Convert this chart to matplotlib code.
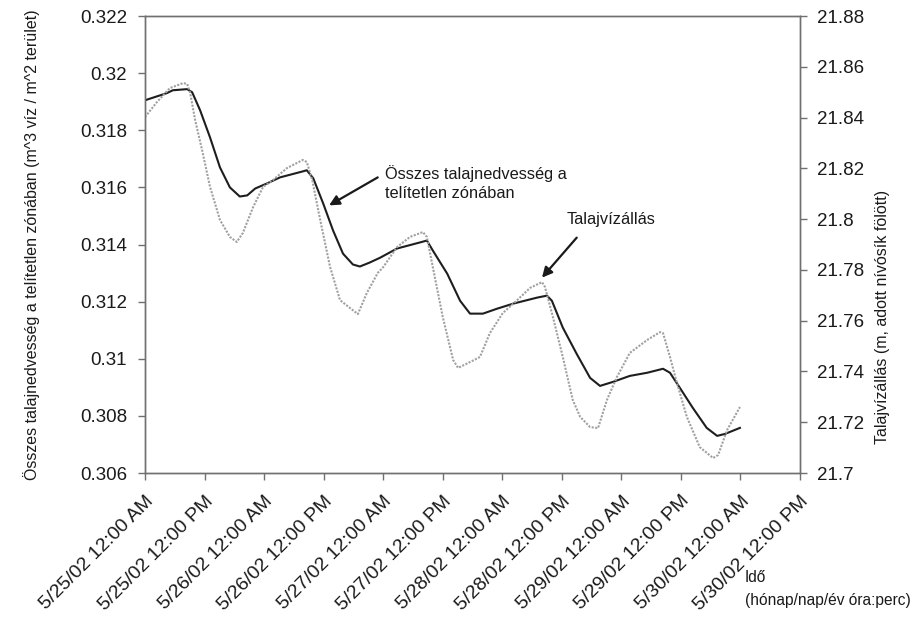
import pandas as pd
import matplotlib.pyplot as plt
import matplotlib.dates as mdates
from matplotlib.ticker import FuncFormatter

plt.rcParams['font.family'] = ['Liberation Sans', 'DejaVu Sans']

start = pd.Timestamp("2002-05-25 00:00")

# soil moisture in the unsaturated zone (left axis), hours from start
moist_hours = [0, 4.4, 5.6, 8.5, 9.5, 11.1, 13.1, 15.1, 17.1, 19.1, 20.6, 22.2,
               24.6, 27.2, 31.8, 32.6, 33.9, 35.9, 37.9, 39.9, 41.9, 43.3, 45.3,
               47.4, 50.8, 56.0, 56.8, 58.0, 60.9, 63.5, 65.5, 68.1, 70.9, 74.2,
               79.0, 81.0, 82.0, 84.2, 87.0, 89.7, 91.7, 94.3, 97.7, 101.2, 104.4,
               105.8, 107.8, 110.4, 113.2, 115.3, 116.9, 119.9]
moist = [0.31905, 0.31930, 0.31940, 0.31944, 0.31933, 0.31870, 0.31775, 0.31670,
         0.31600, 0.31568, 0.31572, 0.31596, 0.31614, 0.31635, 0.31656, 0.31660,
         0.31632, 0.31544, 0.31449, 0.31368, 0.31330, 0.31323, 0.31337, 0.31354,
         0.31386, 0.31410, 0.31414, 0.31379, 0.31298, 0.31203, 0.31158, 0.31158,
         0.31175, 0.31193, 0.31214, 0.31221, 0.31203, 0.31109, 0.31017, 0.30933,
         0.30905, 0.30919, 0.30940, 0.30951, 0.30965, 0.30951, 0.30898, 0.30828,
         0.30758, 0.30730, 0.30737, 0.30758]

# groundwater level (right axis)
gw_hours = [0, 2.4, 5.0, 7.7, 8.5, 9.1, 10.1, 11.5, 13.1, 15.1, 17.1, 18.5, 19.7,
            21.8, 23.8, 25.8, 28.6, 31.8, 32.6, 33.7, 35.3, 37.3, 39.3, 41.3, 42.9,
            44.7, 46.9, 48.0, 50.8, 53.4, 56.0, 56.8, 58.0, 60.0, 62.1, 63.1, 65.5,
            67.5, 69.5, 72.1, 75.0, 77.6, 80.0, 80.6, 82.2, 84.2, 86.2, 87.7, 89.7,
            91.3, 93.1, 95.1, 97.7, 101.2, 103.8, 104.4, 105.8, 107.2, 109.2, 111.8,
            114.5, 115.5, 117.3, 119.9]
gw = [21.8402, 21.8461, 21.8516, 21.8536, 21.8532, 21.8497, 21.8390, 21.8272,
      21.8127, 21.7997, 21.7930, 21.7910, 21.7945, 21.8048, 21.8127, 21.8154,
      21.8201, 21.8233, 21.8225, 21.8154, 21.7997, 21.7811, 21.7681, 21.7650,
      21.7626, 21.7709, 21.7788, 21.7811, 21.7890, 21.7930, 21.7949, 21.7930,
      21.7811, 21.7615, 21.7445, 21.7414, 21.7437, 21.7457, 21.7551, 21.7630,
      21.7681, 21.7729, 21.7752, 21.7733, 21.7615, 21.7457, 21.7288, 21.7221,
      21.7181, 21.7177, 21.7288, 21.7378, 21.7473, 21.7524, 21.7555, 21.7551,
      21.7457, 21.7355, 21.7221, 21.7102, 21.7059, 21.7071, 21.7169, 21.7260]

left_ticks = [0.306, 0.308, 0.31, 0.312, 0.314, 0.316, 0.318, 0.32, 0.322]
right_ticks = [21.7, 21.72, 21.74, 21.76, 21.78, 21.8, 21.82, 21.84, 21.86, 21.88]

t_moist = start + pd.to_timedelta(moist_hours, unit="h")
t_gw = start + pd.to_timedelta(gw_hours, unit="h")


def at(hours):
    return start + pd.Timedelta(hours=hours)


fig = plt.figure(figsize=(9.15, 6.18), dpi=100)
ax = fig.add_axes([0.1585, 0.2346, 0.7158, 0.7395])
ax2 = ax.twinx()

ax.plot(t_moist, moist, color="#1e1e1e", lw=1.5, zorder=3)
ax2.plot(t_gw, gw, color="#a0a0a0", lw=1.5, linestyle=(0, (1, 0.7)), zorder=2)

ax.set_ylim(0.306, 0.322)
ax2.set_ylim(21.7, 21.88)
ax.set_yticks(left_ticks)
ax2.set_yticks(right_ticks)
ax.yaxis.set_major_formatter(FuncFormatter(lambda v, p: f"{v:g}"))
ax2.yaxis.set_major_formatter(FuncFormatter(lambda v, p: f"{v:g}"))

ax.set_xlim(start, at(132))
ax.xaxis.set_major_locator(mdates.HourLocator(byhour=[0, 12]))


def fmt_date(v, pos):
    d = mdates.num2date(v)
    ampm = "AM" if d.hour < 12 else "PM"
    return f"{d.month}/{d.day}/{d:%y} 12:00 {ampm}"


ax.xaxis.set_major_formatter(FuncFormatter(fmt_date))

for a in (ax, ax2):
    for s in a.spines.values():
        s.set_color("#707070")
        s.set_linewidth(1.0)
    a.tick_params(colors="#707070", labelcolor="#1a1a1a", labelsize=13.5,
                  length=5, width=1.0)
ax.tick_params(axis="y", pad=8)
ax2.tick_params(axis="y", pad=7)
ax.tick_params(axis="x", labelsize=14, pad=9)
for lab in ax.get_xticklabels():
    lab.set_rotation(45)
    lab.set_ha("right")
    lab.set_rotation_mode("anchor")

ax.set_ylabel("Összes talajnedvesség a telítetlen zónában (m^3 víz / m^2 terület)",
              fontsize=11.5, color="#1a1a1a")
ax.yaxis.set_label_coords(-0.161, 0.5)
ax2.set_ylabel("Talajvízállás (m, adott nívósík fölött)", fontsize=11.5,
               color="#1a1a1a")
ax2.yaxis.set_label_coords(1.114, 0.341)

# callouts
ax.text(at(48.4), 0.31616, "Összes talajnedvesség a\ntelítetlen zónában",
        fontsize=11.8, color="#1a1a1a", ha="left", va="center", linespacing=1.3)
ax.annotate("", xy=(at(37.1), 0.31537), xytext=(at(46.9), 0.31635),
            arrowprops=dict(arrowstyle="-|>", color="#1a1a1a", lw=1.6,
                            mutation_scale=15, shrinkA=0, shrinkB=0))
ax.text(at(85.0), 0.31488, "Talajvízállás", fontsize=11.8, color="#1a1a1a",
        ha="left", va="center")
ax.annotate("", xy=(at(80.0), 0.31284), xytext=(at(87.0), 0.31424),
            arrowprops=dict(arrowstyle="-|>", color="#1a1a1a", lw=1.6,
                            mutation_scale=15, shrinkA=0, shrinkB=0))

fig.text(745 / 915, 1 - 577 / 618, "Idő", fontsize=11.2, color="#1a1a1a",
         ha="left", va="center")
fig.text(745 / 915, 1 - 600 / 618, "(hónap/nap/év óra:perc)", fontsize=11.2,
         color="#1a1a1a", ha="left", va="center")

fig.savefig("out.png", dpi=100)
